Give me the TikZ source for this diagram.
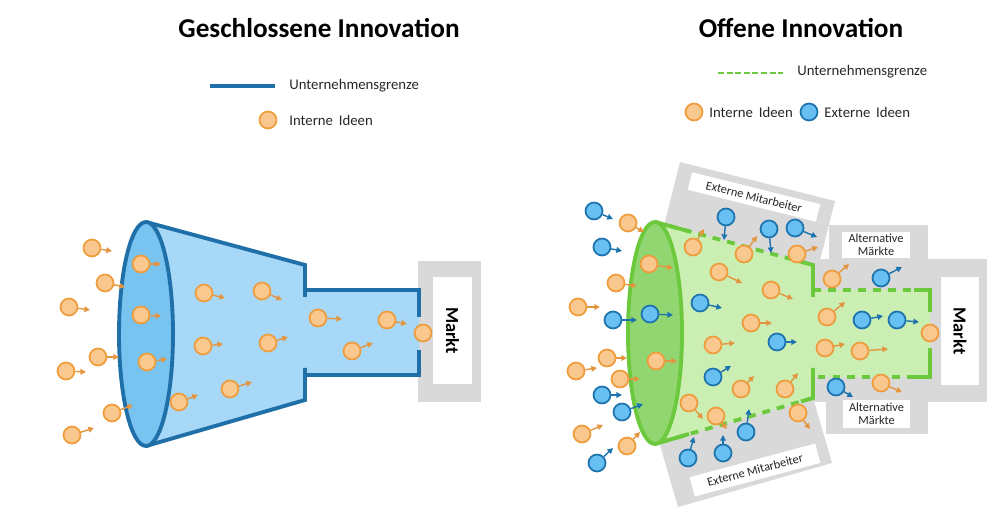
\documentclass[tikz,border=0pt]{standalone}
\usepackage{fontspec}
\setmainfont{Carlito}
\usetikzlibrary{arrows.meta}
\definecolor{bstroke}{HTML}{1F6FA9}
\definecolor{bcone}{HTML}{A8D8F7}
\definecolor{bell}{HTML}{79C3F0}
\definecolor{gstroke}{HTML}{6CC83C}
\definecolor{gcone}{HTML}{CBEFB3}
\definecolor{gell}{HTML}{92D672}
\definecolor{ofill}{HTML}{F9C88F}
\definecolor{ostroke}{HTML}{EE9C3C}
\definecolor{oarrow}{HTML}{E3963F}
\definecolor{cfill}{HTML}{68C0F2}
\definecolor{cstroke}{HTML}{1C73AE}
\definecolor{grayb}{HTML}{D9D9D9}
\definecolor{txt}{HTML}{262626}
\tikzset{
  oc/.style={circle, minimum size=0.34cm, inner sep=0pt, fill=ofill, draw=ostroke, line width=1pt},
  bc/.style={circle, minimum size=0.34cm, inner sep=0pt, fill=cfill, draw=cstroke, line width=1pt},
  oa/.style={draw=oarrow, line width=0.8pt, -{Triangle[length=3.2pt,width=3.2pt]}},
  ba/.style={draw=cstroke, line width=0.8pt, -{Triangle[length=3.2pt,width=3.2pt]}},
  titletext/.style={font=\fontsize{15.5}{18}\selectfont\bfseries, text=black, inner sep=0pt},
  legendtext/.style={font=\fontsize{8.4}{10}\selectfont, text=txt, anchor=west, inner sep=0pt},
  labelbox/.style={fill=white, font=\fontsize{7}{7.6}\selectfont, text=txt, inner sep=0pt, align=center},
  marktbox/.style={fill=white, rotate=-90, font=\fontsize{10.5}{12}\selectfont\bfseries, text=black, inner sep=0pt},
  bline/.style={draw=bstroke, line width=2.2pt},
  gline/.style={draw=gstroke, line width=2.2pt},
  gdash/.style={draw=gstroke, line width=2.2pt, dash pattern=on 4.5pt off 4pt},
}
\newcommand\IdeaO[5]{\node[oc] (#1) at (#2,#3) {}; \coordinate (#1t) at (#4,#5); \draw[oa] (#1) -- (#1t);}
\newcommand\IdeaB[5]{\node[bc] (#1) at (#2,#3) {}; \coordinate (#1t) at (#4,#5); \draw[ba] (#1) -- (#1t);}
\begin{document}
\begin{tikzpicture}[x=0.02cm,y=-0.02cm]
\useasboundingbox (0,0) rectangle (1000,516);
% ---------------- titles and legends
\node[titletext] (t1) at (319,28) {Geschlossene Innovation};
\node[titletext] (t2) at (801,28) {Offene Innovation};
\coordinate (ll1) at (210,86); \coordinate (ll2) at (275,86);
\draw[draw=bstroke, line width=2.2pt] (ll1) -- (ll2);
\node[legendtext] (lt1) at (289,86) {Unternehmensgrenze};
\node[oc] (lc1) at (268,120) {};
\node[legendtext] (lt2) at (289,120) {Interne\ \,Ideen};
\coordinate (rl1) at (718,73); \coordinate (rl2) at (783,73);
\draw[draw=gstroke, line width=1.7pt, dash pattern=on 3.4pt off 1.5pt] (rl1) -- (rl2);
\node[legendtext] (rt1) at (797,72) {Unternehmensgrenze};
\node[oc] (rc1) at (694,112) {};
\node[legendtext] (rt2) at (709,112) {Interne\ \,Ideen};
\node[bc] (rc2) at (809,112) {};
\node[legendtext] (rt3) at (824,112) {Externe\ \,Ideen};
% ---------------- left: closed innovation
\fill[grayb] (418,261) rectangle (481,402);
\node[marktbox, minimum width=2.14cm, minimum height=0.78cm] (m1) at (452.5,330.5) {Markt};
\fill[bcone] (146,222) -- (305,265) -- (305,290) -- (419,290) -- (419,375) -- (305,375) -- (305,400) -- (146,446) -- cycle;
\draw[bline] (146,222) -- (305,265) -- (305,297);
\draw[bline] (305,290) -- (419,290) -- (419,317);
\draw[bline] (419,350) -- (419,375) -- (305,375);
\draw[bline] (305,368) -- (305,400) -- (146,446);
\draw[bline, fill=bell] (146,334) ellipse [x radius=0.54cm, y radius=2.24cm];
\IdeaO{L1}{92}{248}{112}{251}
\IdeaO{L2}{141}{264}{161}{264}
\IdeaO{L3}{105}{283}{125}{287}
\IdeaO{L4}{69}{307}{90}{310}
\IdeaO{L5}{141}{315}{161}{316}
\IdeaO{L6}{204}{293}{225}{298}
\IdeaO{L7}{262}{291}{282}{300}
\IdeaO{L8}{318}{318}{342}{319}
\IdeaO{L9}{387}{320}{407}{324}
\node[oc] (L10) at (423,333) {};
\IdeaO{L11}{98}{357}{119}{357}
\IdeaO{L12}{147}{362}{167}{359}
\IdeaO{L13}{203}{346}{223}{344}
\IdeaO{L14}{268}{343}{288}{337}
\IdeaO{L15}{352}{351}{373}{343}
\IdeaO{L16}{66}{371}{86}{372}
\IdeaO{L17}{230}{389}{252}{382}
\IdeaO{L18}{179}{402}{198}{395}
\IdeaO{L19}{112}{413}{133}{405}
\IdeaO{L20}{72}{435}{94}{428}
% ---------------- right: open innovation, grey background
\fill[grayb] (680,162) -- (835,201) -- (813,288) -- (658,249) -- cycle;
\fill[grayb] (678,507) -- (832,463) -- (807,377) -- (653,421) -- cycle;
\fill[grayb] (813,259) rectangle (987,402);
\fill[grayb] (829,225) rectangle (928,262);
\fill[grayb] (826,400) rectangle (928,434);
\node[labelbox, rotate=-14, minimum width=2.64cm, minimum height=0.36cm] (em1) at (754,197) {Externe Mitarbeiter};
\node[labelbox, rotate=15, minimum width=2.6cm, minimum height=0.4cm] (em2) at (755,470) {Externe Mitarbeiter};
\node[labelbox, minimum width=1.36cm, minimum height=0.52cm] (am1) at (876,245) {Alternative\\Märkte};
\node[labelbox, minimum width=1.34cm, minimum height=0.56cm] (am2) at (876.5,414) {Alternative\\Märkte};
\node[marktbox, minimum width=2.16cm, minimum height=0.76cm] (m2) at (960,331) {Markt};
% funnel
\fill[gcone] (655,222) -- (813,265) -- (813,290) -- (930,290) -- (930,377) -- (813,377) -- (813,398) -- (655,444) -- cycle;
\draw[gdash] (655,222) -- (813,265);
\draw[gdash] (813,290) -- (930,290);
\draw[gdash] (930,377) -- (813,377);
\draw[gdash] (813,398) -- (655,444);
\draw[gline] (655,222) -- (690,231.6);
\draw[gline] (801,261.7) -- (813,265) -- (813,297);
\draw[gline] (914,290) -- (930,290) -- (930,312);
\draw[gline] (930,348) -- (930,377) -- (914,377);
\draw[gline] (813,368) -- (813,398) -- (801,401.5);
\draw[gline] (689,434) -- (655,444);
\draw[gline, fill=gell] (655,333) ellipse [x radius=0.54cm, y radius=2.22cm];
% external ideas
\IdeaB{B1}{594}{211}{613}{219}
\IdeaB{B2}{602}{247}{622}{251}
\IdeaB{B3}{613}{320}{637}{320}
\IdeaB{B4}{650}{314}{673}{315}
\IdeaB{B5}{700}{303}{722}{308}
\IdeaB{B6}{726}{217}{724}{240}
\IdeaB{B7}{769}{229}{771}{253}
\IdeaB{B8}{795}{228}{817}{237}
\IdeaB{B9}{777}{342}{797}{342}
\IdeaB{B10}{713}{377}{731}{366}
\IdeaB{B11}{602}{395}{622}{395}
\IdeaB{B12}{622}{412}{643}{404}
\IdeaB{B13}{597}{463}{613}{448}
\IdeaB{B14}{688}{458}{694}{437}
\IdeaB{B15}{723}{453}{723}{435}
\IdeaB{B16}{746}{432}{749}{409}
\IdeaB{B17}{836}{387}{853}{397}
\IdeaB{B18}{881}{278}{902}{267}
\IdeaB{B19}{862}{320}{883}{316}
\IdeaB{B20}{897}{320}{919}{322}
% internal ideas
\IdeaO{O1}{628}{223}{644}{232}
\IdeaO{O2}{616}{283}{637}{286}
\IdeaO{O3}{578}{307}{600}{307}
\IdeaO{O4}{649}{264}{673}{268}
\IdeaO{O5}{656}{361}{677}{361}
\IdeaO{O6}{607}{358}{627}{358}
\IdeaO{O7}{576}{371}{597}{368}
\IdeaO{O8}{620}{379}{640}{379}
\IdeaO{O9}{582}{434}{603}{425}
\IdeaO{O10}{627}{446}{640}{432}
\IdeaO{O11}{693}{247}{704}{229}
\IdeaO{O12}{744}{254}{757}{236}
\IdeaO{O13}{797}{254}{818}{247}
\IdeaO{O14}{719}{272}{742}{283}
\IdeaO{O15}{771}{290}{793}{299}
\IdeaO{O16}{751}{323}{772}{323}
\IdeaO{O17}{713}{345}{735}{343}
\IdeaO{O18}{741}{389}{754}{376}
\IdeaO{O19}{785}{389}{798}{373}
\IdeaO{O20}{689}{403}{703}{419}
\IdeaO{O21}{716}{416}{727}{429}
\IdeaO{O22}{798}{413}{810}{429}
\IdeaO{O23}{832}{279}{849}{264}
\IdeaO{O24}{827}{317}{845}{302}
\IdeaO{O25}{825}{348}{845}{344}
\IdeaO{O26}{860}{351}{888}{349}
\IdeaO{O27}{881}{383}{902}{392}
\node[oc] (O28) at (930,333) {};
\end{tikzpicture}
\end{document}
